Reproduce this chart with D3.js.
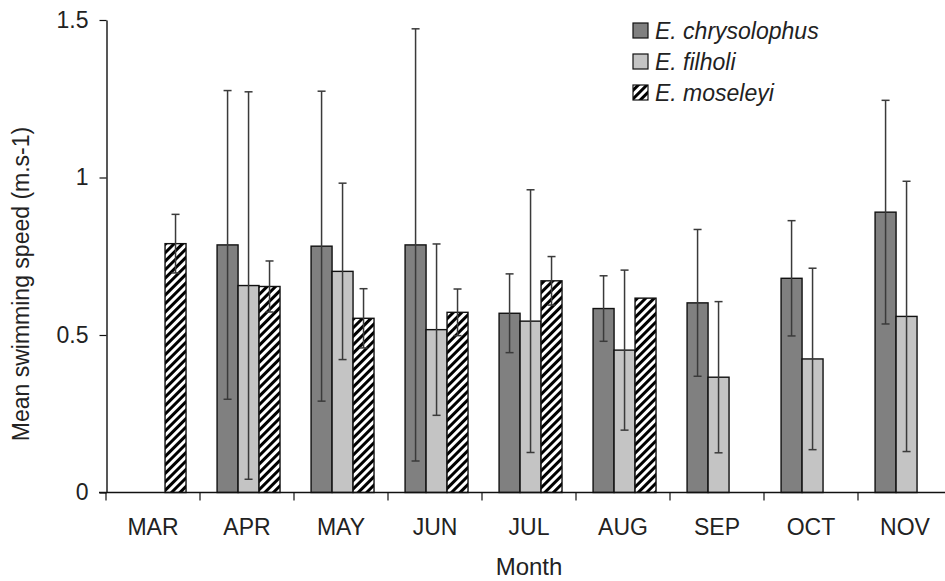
<!DOCTYPE html>
<html>
<head>
<meta charset="utf-8">
<script src="https://cdn.jsdelivr.net/npm/d3@7"></script>
<style>
  html, body { margin: 0; padding: 0; background: #fff; }
  svg { display: block; font-family: "Liberation Sans", Arial, sans-serif; }
</style>
</head>
<body>
<svg id="chart" width="945" height="581"></svg>
<script>
// ---- data ----
const months = ["MAR", "APR", "MAY", "JUN", "JUL", "AUG", "SEP", "OCT", "NOV"];
const seriesNames = ["E. chrysolophus", "E. filholi", "E. moseleyi"];
const chrysolophus    = [null, 0.786, 0.782, 0.786, 0.569, 0.584, 0.602, 0.680, 0.890];
const chrysolophusErr = [null, 0.490, 0.492, 0.686, 0.125, 0.104, 0.233, 0.183, 0.355];
const filholi         = [null, 0.657, 0.702, 0.517, 0.544, 0.452, 0.366, 0.424, 0.559];
const filholiErr      = [null, 0.615, 0.280, 0.272, 0.417, 0.254, 0.240, 0.288, 0.429];
const moseleyi        = [0.790, 0.654, 0.553, 0.572, 0.672, 0.617, null, null, null];
const moseleyiErr     = [0.093, 0.081, 0.094, 0.074, 0.077, null, null, null, null];
const yTicks = [0, 0.5, 1, 1.5];
const yTickLabels = ["0", "0.5", "1", "1.5"];
const xTitle = "Month";
const yTitle = "Mean swimming speed (m.s-1)";

const values = [chrysolophus, filholi, moseleyi];
const errors = [chrysolophusErr, filholiErr, moseleyiErr];

// ---- layout ----
const svg = d3.select("#chart");
const defs = svg.append("defs");
const hatch = defs.append("pattern")
  .attr("id", "hatch")
  .attr("patternUnits", "userSpaceOnUse")
  .attr("width", 6).attr("height", 6)
  .attr("patternTransform", "rotate(45)");
hatch.append("rect").attr("width", 6).attr("height", 6).attr("fill", "#fff");
hatch.append("rect").attr("width", 3).attr("height", 6).attr("fill", "#000");

const fills = ["#808080", "#c4c4c4", "url(#hatch)"];

const x = d3.scaleBand().domain(months).range([106, 952]).padding(0);
const xi = d3.scaleBand().domain([0, 1, 2]).range([0, x.bandwidth()])
  .paddingInner(0).paddingOuter(0.74).align(0.55);
const y = d3.scaleLinear().domain([0, 1.5]).range([492.5, 20]);

// bars
const barData = [];
values.forEach((arr, s) => arr.forEach((v, i) => {
  if (v != null) barData.push({ s, m: months[i], v, e: errors[s][i] });
}));

svg.append("g").selectAll("rect").data(barData).join("rect")
  .attr("x", d => x(d.m) + xi(d.s))
  .attr("y", d => y(d.v))
  .attr("width", xi.bandwidth())
  .attr("height", d => y(0) - y(d.v))
  .attr("fill", d => fills[d.s])
  .attr("stroke", "#111")
  .attr("stroke-width", 1.4);

// error bars
const eg = svg.append("g").attr("stroke", "#3a3a3a").attr("stroke-width", 1.5);
barData.filter(d => d.e != null).forEach(d => {
  const cx = x(d.m) + xi(d.s) + xi.bandwidth() / 2;
  eg.append("line").attr("x1", cx).attr("x2", cx)
    .attr("y1", y(d.v + d.e)).attr("y2", y(d.v - d.e));
  [d.v + d.e, d.v - d.e].forEach(t => {
    eg.append("line").attr("x1", cx - 4).attr("x2", cx + 4)
      .attr("y1", y(t)).attr("y2", y(t));
  });
});

// y axis
const yAxis = d3.axisLeft(y).tickValues(yTicks)
  .tickFormat((d, i) => yTickLabels[i])
  .tickSize(7).tickPadding(11).tickSizeOuter(0);
const yg = svg.append("g").attr("transform", "translate(106.5,0)").call(yAxis);
yg.select(".domain").attr("stroke", "#111").attr("stroke-width", 1.4);
yg.selectAll(".tick line").attr("stroke", "#111").attr("stroke-width", 1.2);
yg.selectAll(".tick text").attr("font-size", 23).attr("fill", "#222")
  .attr("font-family", "Liberation Sans, Arial, sans-serif");

// x axis
const xg = svg.append("g");
xg.append("line").attr("x1", 99).attr("x2", 952)
  .attr("y1", y(0)).attr("y2", y(0))
  .attr("stroke", "#111").attr("stroke-width", 1.4);
xg.selectAll("line.tk").data(months).join("line").attr("class", "tk")
  .attr("x1", d => x(d)).attr("x2", d => x(d))
  .attr("y1", y(0)).attr("y2", y(0) + 8)
  .attr("stroke", "#111").attr("stroke-width", 1.2);
xg.selectAll("text").data(months).join("text")
  .attr("x", d => x(d) + x.bandwidth() / 2)
  .attr("y", 535)
  .attr("text-anchor", "middle")
  .attr("font-size", 23).attr("fill", "#222")
  .text(d => d);

// titles
svg.append("text").attr("x", 529).attr("y", 575)
  .attr("text-anchor", "middle").attr("font-size", 24).attr("fill", "#222")
  .text(xTitle);
svg.append("text")
  .attr("transform", "translate(29,284) rotate(-90)")
  .attr("text-anchor", "middle").attr("font-size", 23).attr("fill", "#222")
  .text(yTitle);

// legend
const lg = svg.append("g");
seriesNames.forEach((name, i) => {
  const cy = 30.5 + i * 31;
  lg.append("rect").attr("x", 633).attr("y", cy - 7.5)
    .attr("width", 15).attr("height", 15)
    .attr("fill", fills[i]).attr("stroke", "#111").attr("stroke-width", 1.2);
  const parts = name.split(" ");
  const t = lg.append("text").attr("x", 655).attr("y", cy + 8)
    .attr("font-size", 23).attr("font-style", "italic").attr("fill", "#222");
  t.text(name);
});
</script>
</body>
</html>
